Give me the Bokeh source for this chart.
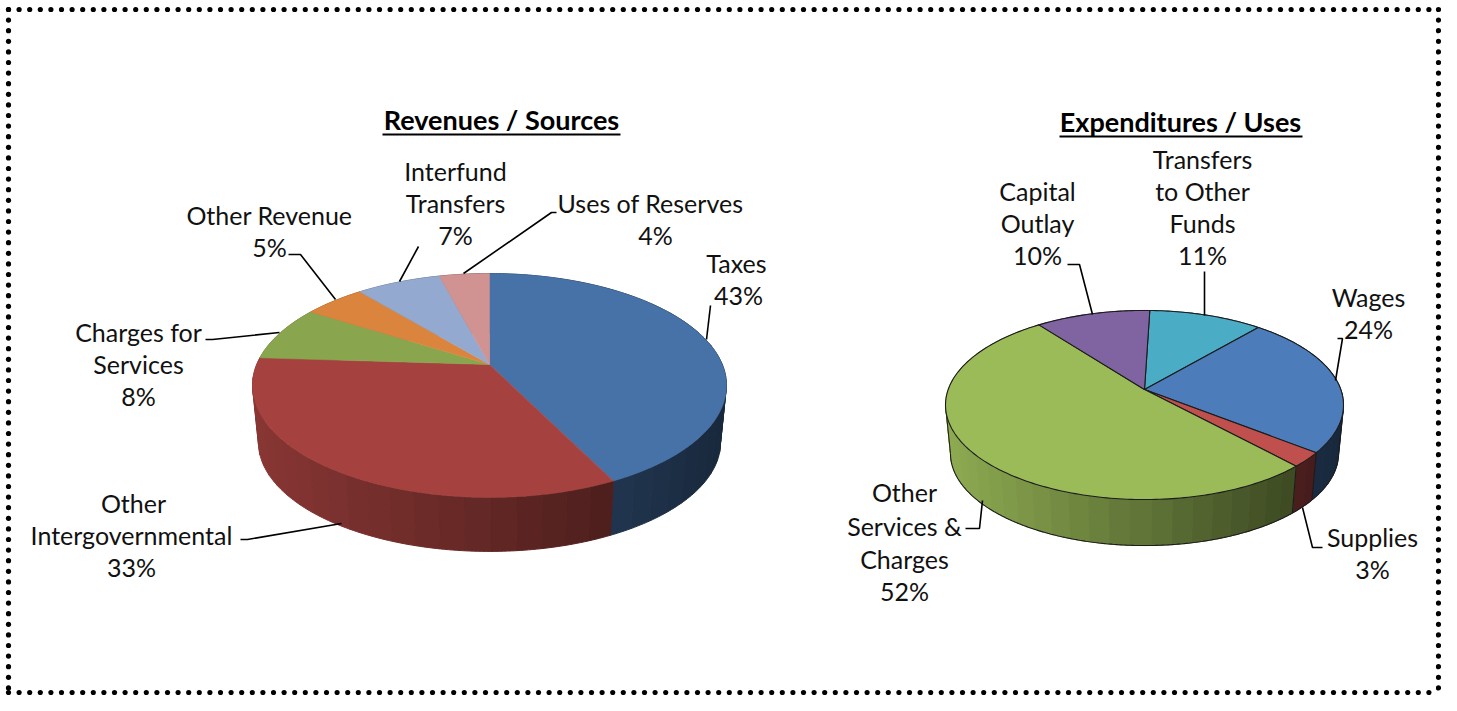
import numpy as np
from bokeh.plotting import figure
from bokeh.models import Range1d
from bokeh.core.properties import value
from bokeh.embed import file_html
from bokeh.resources import INLINE

# ---- data
rev_names = ["Taxes", "Other Intergovernmental", "Charges for Services", "Other Revenue", "Interfund Transfers", "Uses of Reserves"]
rev_values = [42.7, 33.3, 8.0, 5.0, 6.9, 4.1]
rev_colors = ["#4672A8", "#A5423F", "#89A54E", "#DB843D", "#93A9CF", "#D19392"]

exp_names = ["Transfers to Other Funds", "Wages", "Supplies", "Other Services & Charges", "Capital Outlay"]
exp_values = [10.8, 24.3, 2.5, 51.5, 10.9]
exp_colors = ["#4BACC6", "#4C7CBA", "#C0504D", "#9BBB59", "#8064A2"]

rev_labels = [
    ("Interfund", 455, 170), ("Transfers", 455, 202), ("7%", 455, 234),
    ("Uses of Reserves", 650, 202), ("4%", 655, 234),
    ("Other Revenue", 269, 214), ("5%", 269, 246),
    ("Taxes", 736, 262), ("43%", 738, 294),
    ("Charges for", 138, 331), ("Services", 138, 363), ("8%", 138, 395),
    ("Other", 133, 502), ("Intergovernmental", 131, 534), ("33%", 131, 566),
]
exp_labels = [
    ("Transfers", 1202, 158), ("to Other", 1202, 190), ("Funds", 1202, 222), ("11%", 1202, 254),
    ("Capital", 1037, 190), ("Outlay", 1037, 222), ("10%", 1037, 254),
    ("Wages", 1368, 296), ("24%", 1368, 328),
    ("Other", 904, 491), ("Services &", 904, 525), ("Charges", 904, 558), ("52%", 904, 590),
    ("Supplies", 1372, 536), ("3%", 1372, 568),
]
titles = [("Revenues / Sources", 501, 119, 382, 620, 134), ("Expenditures / Uses", 1180, 121, 1059, 1302, 136)]
leaders = [
    ([706, 710], [339, 305]),
    ([463, 551, 556], [273, 212, 212]),
    ([399, 418], [281, 246]),
    ([335, 300, 288], [299, 254, 254]),
    ([279, 212, 205], [332, 339, 339]),
    ([341, 247, 240], [523, 539, 539]),
    ([1204, 1204], [315, 271]),
    ([1092, 1079, 1067], [314, 264, 264]),
    ([1335, 1342, 1337], [380, 338, 338]),
    ([1302, 1312, 1322], [507, 547, 547]),
    ([982, 979, 965], [500, 528, 528]),
]

FONT = "Lato"
W, H = 1441, 695
p = figure(width=W, height=H, x_range=Range1d(0, W), y_range=Range1d(H, 0),
           output_backend="svg", toolbar_location=None, min_border=0,
           background_fill_color="white", border_fill_color="white", outline_line_color=None)
p.xaxis.visible = False
p.yaxis.visible = False
p.grid.visible = False


def project(theta, cx, cy, R, S, k):
    X, Y = np.sin(theta), -np.cos(theta)
    w = 1 - k * Y
    return cx + R * X / w, cy + S * Y / w


def hexrgb(c):
    return np.array([int(c[i:i + 2], 16) for i in (1, 3, 5)], float)


def shade(c, f):
    r = np.clip(hexrgb(c) * f, 0, 255).astype(int)
    return "#%02x%02x%02x" % tuple(r)


def draw_pie(vals, cols, cx, cy, R, S, k, depth_front, scale, start, f0, f1, outline):
    edges = start + np.cumsum([0] + list(vals)) / sum(vals) * 2 * np.pi
    Sb, Rb = S * scale, R * scale
    cyb = cy + S / (1 - k) + depth_front - Sb / (1 - k)
    xmin, xmax = cx - R / np.sqrt(1 - k * k), cx + R / np.sqrt(1 - k * k)
    strips = []
    for a, b, c in zip(edges[:-1], edges[1:], cols):
        n = max(2, int((b - a) / (2 * np.pi) * 70))
        bounds = np.linspace(a, b, n + 1)
        for i in range(n):
            th = np.linspace(bounds[i], bounds[i + 1], 7)
            xt, yt = project(th, cx, cy, R, S, k)
            xb, yb = project(th, cx, cyb, Rb, Sb, k)
            t = (xt.mean() - xmin) / (xmax - xmin)
            f = f0 + (f1 - f0) * t
            strips.append((-np.cos(th.mean()), np.r_[xt, xb[::-1]], np.r_[yt, yb[::-1]], shade(c, f)))
    strips.sort(key=lambda s: s[0])
    p.patches([s[1] for s in strips], [s[2] for s in strips], fill_color=[s[3] for s in strips],
              line_color=[s[3] for s in strips], line_width=1.0)
    if outline:
        th = np.linspace(0, 2 * np.pi, 721)
        xb, yb = project(th, cx, cyb, Rb, Sb, k)
        xt, yt = project(th, cx, cy, R, S, k)
        idx = np.where(-np.cos(th) > k)[0]
        p.line(xb[idx], yb[idx], line_color="#1c1c1c", line_width=1.1)
        for e in edges:
            if -np.cos(e) > k:
                xa, ya = project(np.array([e]), cx, cy, R, S, k)
                xc, yc = project(np.array([e]), cx, cyb, Rb, Sb, k)
                p.line([xa[0], xc[0]], [ya[0], yc[0]], line_color="#1c1c1c", line_width=1.1)
        for i0 in (idx[0], idx[-1]):
            p.line([xt[i0], xb[i0]], [yt[i0], yb[i0]], line_color="#1c1c1c", line_width=1.0)
    for a, b, c in zip(edges[:-1], edges[1:], cols):
        n = max(3, int((b - a) / (2 * np.pi) * 360))
        th = np.linspace(a, b, n + 1)
        xt, yt = project(th, cx, cy, R, S, k)
        p.patch(np.r_[cx, xt], np.r_[cy, yt], fill_color=c,
                line_color="#1c1c1c" if outline else c,
                line_width=1.1 if outline else 0.5, line_join="round")


draw_pie(rev_values, rev_colors, 489, 364, 232.8, 108, 0.1875, 54, 0.975, 0.0, 0.83, 0.36, False)
draw_pie(exp_values, exp_colors, 1144, 389, 196.3, 92, 0.164, 46, 0.975, np.radians(1.8), 0.92, 0.32, True)

for xs, ys in leaders:
    p.line(xs, ys, line_color="#000000", line_width=1.6)

lab = rev_labels + exp_labels
p.text([l[1] for l in lab], [l[2] for l in lab], text=[l[0] for l in lab], text_font=value(FONT),
       text_font_size="25px", text_align="center", text_baseline="middle", text_color="#111111")
p.text([t[1] for t in titles], [t[2] for t in titles], text=[t[0] for t in titles], text_font=value(FONT),
       text_font_size="27px", text_font_style="bold", text_align="center", text_baseline="middle",
       text_color="#000000")
p.segment([t[3] for t in titles], [t[5] for t in titles], [t[4] for t in titles], [t[5] for t in titles],
          line_color="#000000", line_width=2)

# dotted frame, kept inside the plot
L, T, Rr, B = 8, 9, W - 3, H - 3
step = 10.6
nx = int((Rr - L) / step) + 1
ny = int((B - T) / step) + 1
xs_h = L + step * np.arange(nx)
ys_v = T + step * np.arange(ny)
bx = np.r_[xs_h, xs_h, np.full(ny, L), np.full(ny, Rr)]
by = np.r_[np.full(nx, T), np.full(nx, B), ys_v, ys_v]
p.scatter(bx, by, marker="circle", size=5.2, fill_color="#000000", line_color=None)

open("out.html", "w").write(file_html(p, INLINE))
